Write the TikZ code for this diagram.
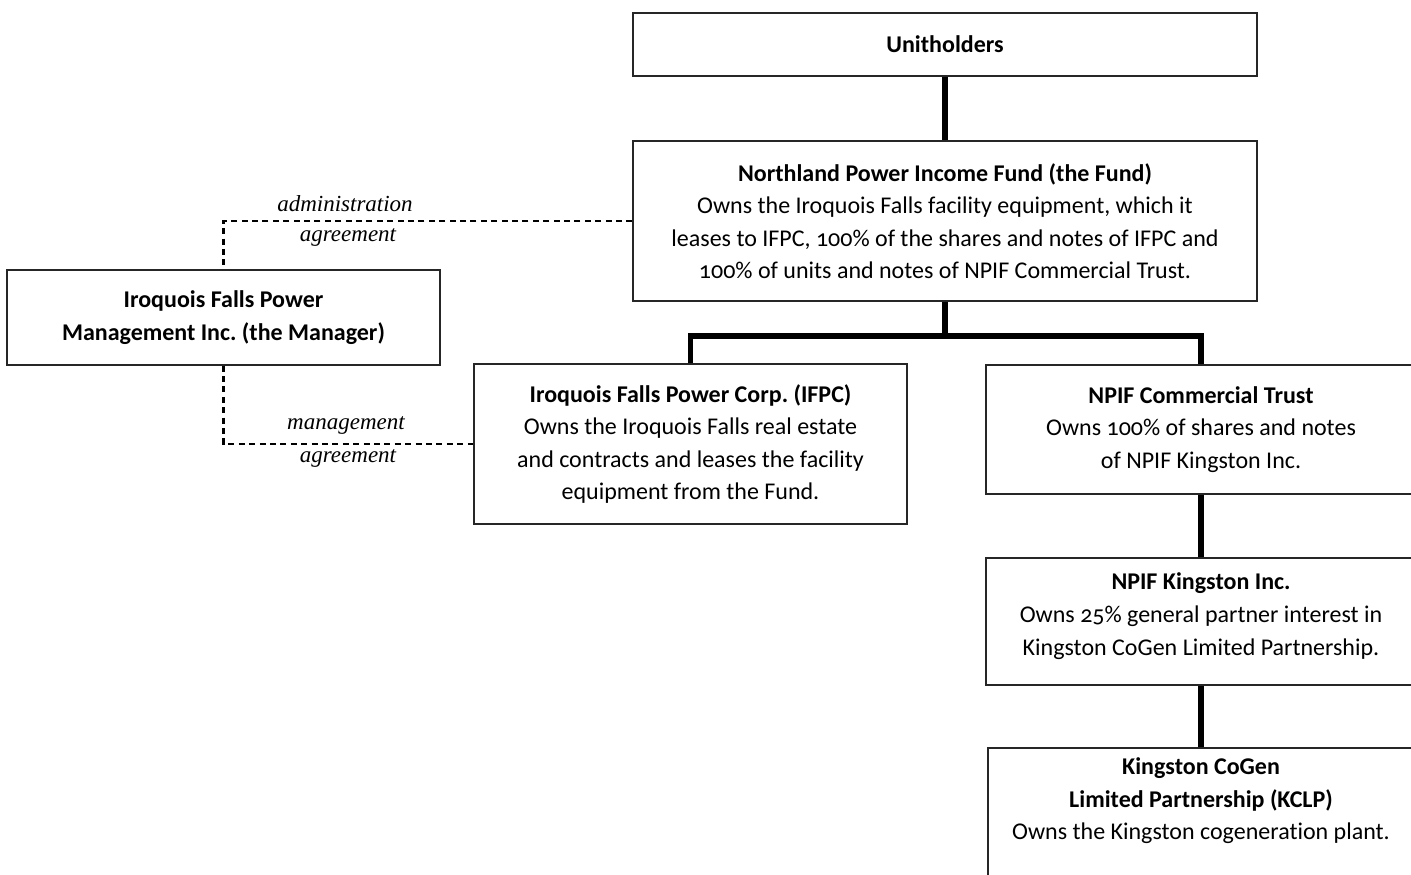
\documentclass[tikz,border=0pt]{standalone}
\usepackage{fontspec}
\setsansfont{Carlito}[Numbers=OldStyle, Ligatures=NoCommon]
\newfontfamily\lblfont{Liberation Serif}
\frenchspacing
\begin{document}
\begin{tikzpicture}[x=0.5pt,y=-0.5pt,
  box/.style={draw=black!85, line width=0.6pt, rectangle, inner sep=0pt, align=center,
    font=\sffamily\fontsize{12}{16.2}\selectfont},
  boxtext/.style={inner sep=0pt, align=center, font=\sffamily\fontsize{12}{16.2}\selectfont},
  tree/.style={line width=2.6pt, line join=miter},
  dashline/.style={line width=1.1pt, dash pattern=on 3pt off 2.2pt},
  lbl/.style={font=\lblfont\itshape\fontsize{11.5}{12}\selectfont, inner sep=0pt}]
\useasboundingbox (0,0) rectangle (1411,874);
\clip (0,0) rectangle (1411,874);

\node[box, minimum width=312pt, minimum height=31.5pt] (unit) at (945,44.5) {\textbf{Unitholders}};
\node[box, minimum width=312pt, minimum height=80pt] (fund) at (945,221)
  {\textbf{Northland Power Income Fund (the Fund)}\\
   Owns the Iroquois Falls facility equipment, which it\\
   leases to IFPC, 100\% of the shares and notes of IFPC and\\
   100\% of units and notes of NPIF Commercial Trust.};
\node[box, minimum width=216.5pt, minimum height=47.5pt] (mgr) at (223.5,317.5)
  {\textbf{Iroquois Falls Power}\\\textbf{Management Inc. (the Manager)}};
\node[box, minimum width=216.5pt, minimum height=80pt] (ifpc) at (690.5,444)
  {\textbf{Iroquois Falls Power Corp. (IFPC)}\\
   Owns the Iroquois Falls real estate\\
   and contracts and leases the facility\\
   equipment from the Fund.};
\node[box, minimum width=215pt, minimum height=64.5pt] (npct) at (1201,429.5)
  {\textbf{NPIF Commercial Trust}\\
   Owns 100\% of shares and notes\\
   of NPIF Kingston Inc.};
\node[box, minimum width=215pt, minimum height=63.5pt] (npk) at (1201,621.5)
  {\raisebox{7.5pt}{\shortstack{\textbf{NPIF Kingston Inc.}\\[3pt]
   Owns 25\% general partner interest in\\[3pt]
   Kingston CoGen Limited Partnership.}}};
\node[box, minimum width=213pt, minimum height=76pt] (kclp) at (1201,824) {};
\node[boxtext] (kclptext) at (1201,801)
  {\textbf{Kingston CoGen}\\
   \textbf{Limited Partnership (KCLP)}\\
   Owns the Kingston cogeneration plant.};

% ownership tree
\coordinate (split) at (945,336);
\draw[tree] (unit.south) -- (fund.north);
\draw[tree] (fund.south) -- (split);
\draw[tree] (ifpc.north) -- (ifpc.north |- split) -- (npct.north |- split) -- (npct.north);
\draw[tree] (npct.south) -- (npk.north);
\draw[tree] (npk.south) -- (kclp.north);

% agreements
\draw[dashline] (fund.west) -| (mgr.north);
\draw[dashline] (mgr.south) |- (ifpc.west);
\node[lbl] (adm1) at (345,204) {administration};
\node[lbl] (adm2) at (348,237) {agreement};
\node[lbl] (man1) at (346,425) {management};
\node[lbl] (man2) at (348,458) {agreement};
\end{tikzpicture}
\end{document}
